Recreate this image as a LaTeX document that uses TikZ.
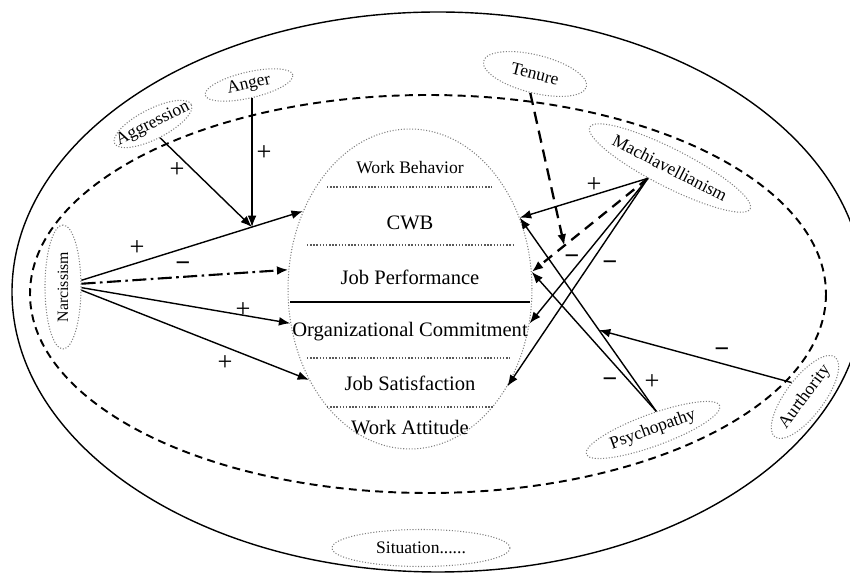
\documentclass[tikz,border=0pt]{standalone}
\usepackage{fontspec}
\setmainfont{Liberation Serif}
\usetikzlibrary{shapes.geometric,arrows.meta,calc}
\tikzset{
  attr/.style={ellipse, draw=gray, densely dotted, line width=0.6pt, inner sep=-6pt, font=\fontsize{10}{12}\selectfont},
  rel/.style={->, line width=0.8pt},
  dashrel/.style={->, line width=1.3pt, dash pattern=on 7pt off 4pt},
  sign/.style={inner sep=0pt, font=\fontsize{15}{15}\selectfont},
  neg/.style={sign, font=\fontsize{15}{15}\selectfont\bfseries},
  sep/.style={line width=0.8pt, densely dotted, gray!70!black},
  outcome/.style={font=\fontsize{11.7}{14}\selectfont},
}
\begin{document}
\begin{tikzpicture}[x=0.02cm, y=-0.02cm, line join=round, >={Latex[length=6.5pt,width=5pt]}]
	\useasboundingbox (0,0) rectangle (850,573);
	% situation and personality
	\draw[line width=0.8pt] (438,292) ellipse (426 and 280);
	\draw[line width=1.1pt, dash pattern=on 4.5pt off 3pt] (428,294) ellipse (398 and 199);
	% work behavior / work attitude
	\node[ellipse, draw=gray, densely dotted, line width=0.6pt, minimum width=4.88cm, minimum height=6.4cm] (core) at (410,289) {};
	\node[font=\fontsize{10}{12}\selectfont] (wb) at (410,168) {Work Behavior};
	\node[outcome] (cwb) at (410,223) {CWB};
	\node[outcome] (jp) at (410,277) {Job Performance};
	\node[outcome] (oc) at (410,332) {Organizational Commitment};
	\node[outcome] (js) at (410,383) {Job Satisfaction};
	\node[outcome] (wa) at (410,428) {Work Attitude};
	\draw[sep] (327,187)--(492,187);
	\draw[sep] (307,245)--(513,245);
	\draw[line width=1.6pt] (290,302)--(530,302);
	\draw[sep] (307,358)--(510,358);
	\draw[sep] (327,407)--(493,407);
	% traits and moderators
	\node[attr, minimum width=1.72cm, minimum height=0.6cm, rotate=27] (aggr) at (153,124) {Aggression};
	\node[attr, minimum width=1.8cm, minimum height=0.52cm, rotate=13] (anger) at (249,85) {Anger};
	\node[attr, minimum width=2.12cm, minimum height=0.76cm, rotate=-14] (tenure) at (535,74) {Tenure};
	\node[attr, minimum width=3.6cm, minimum height=0.76cm, rotate=-27] (mach) at (670,168) {Machiavellianism};
	\node[attr, minimum width=2.48cm, minimum height=0.72cm, rotate=90, font=\fontsize{9}{11}\selectfont] (narc) at (63,287) {Narcissism};
	\node[attr, minimum width=2.84cm, minimum height=0.64cm, rotate=20] (psych) at (653,430) {Psychopathy};
	\node[attr, minimum width=2cm, minimum height=0.76cm, rotate=53] (auth) at (805,397) {Aurthority};
	\node[attr, minimum width=3.56cm, minimum height=0.74cm] (sit) at (421,548) {Situation......};
	% moderation points
	\coordinate (modcwb) at ($(narc.-70)!0.77!(core.144)$);
	\coordinate (modten) at ($(mach.232)!0.72!(core.8)$);
	\coordinate (modpsy) at ($(psych.60)!0.42!(core.33)$);
	% narcissism
	\draw[rel] (narc.-70)--(core.144);
	\draw[rel, line width=1.2pt, dash pattern=on 8pt off 2.5pt on 1.5pt off 2.5pt] (narc.-80)--(core.171);
	\draw[rel] (narc.-92)--(core.196);
	\draw[rel] (narc.-100)--(core.222);
	\draw[rel] (aggr.south)--(modcwb);
	\draw[rel] (anger.south)--(anger.south |- modcwb);
	% machiavellianism
	\draw[rel] (mach.232)--(core.33);
	\draw[dashrel, dash pattern=on 6pt off 4pt] (mach.232)--(core.8);
	\draw[rel] (mach.232)--(core.-16);
	\draw[rel] (mach.232)--(core.-45);
	\draw[dashrel] (tenure.south)--(modten);
	% psychopathy
	\draw[rel] (psych.60)--(core.33);
	\draw[rel] (psych.60)--(core.8);
	\draw[rel] (auth.80)--(modpsy);
	% signs
	\node[sign] (pAggr) at (177,170) {+};
	\node[sign] (pAnger) at (264,153) {+};
	\node[sign] (pNarcCwb) at (137,248) {+};
	\node[neg] (mNarcJp) at (183,267) {−};
	\node[sign] (pNarcOc) at (243,310) {+};
	\node[sign] (pNarcJs) at (225,363) {+};
	\node[sign] (pMachCwb) at (594,185) {+};
	\node[neg] (mMachJp) at (572,260) {−};
	\node[neg] (mMachOc) at (610,266) {−};
	\node[neg] (mPsyJp) at (610,383) {−};
	\node[sign] (pPsyCwb) at (652,382) {+};
	\node[neg] (mAuth) at (722,353) {−};
\end{tikzpicture}
\end{document}
